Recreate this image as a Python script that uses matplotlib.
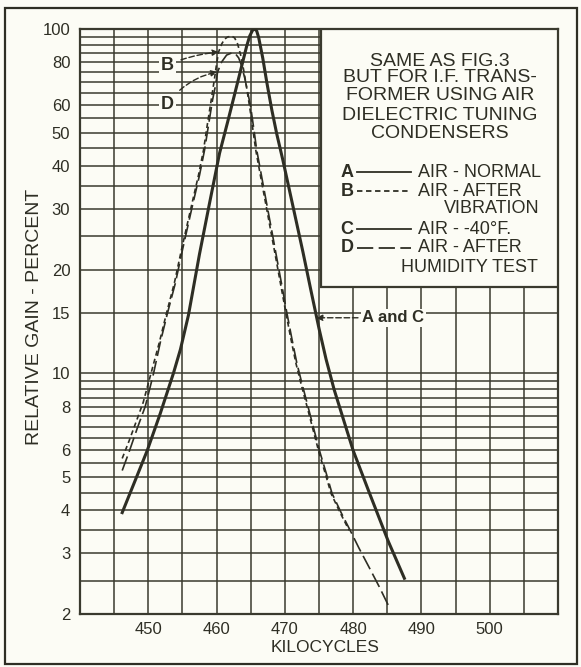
import matplotlib
matplotlib.use("Agg")
import matplotlib.pyplot as plt
from matplotlib.patches import Rectangle
from matplotlib.lines import Line2D

# ---------------- data ----------------
kc_a = [446.18, 448.09, 449.85, 451.76, 453.68, 454.71, 455.88, 457.50, 458.97, 460.44,
        461.62, 462.65, 463.68, 464.41, 464.85, 465.29, 465.59, 465.88, 466.18, 466.76,
        467.35, 468.09, 468.82, 469.71, 471.18, 472.65, 473.82, 475.00, 476.03, 477.21,
        478.53, 480.00, 482.35, 485.15, 487.50]
gain_a = [3.94, 4.89, 5.97, 7.65, 10.0, 11.74, 14.75, 22.2, 31.2, 43.6,
          53.7, 64.7, 78.1, 89.2, 95.4, 99.3, 100.0, 98.7, 94.2, 82.4,
          70.1, 58.2, 49.5, 41.6, 30.6, 22.5, 17.4, 13.5, 11.0, 8.98,
          7.40, 5.97, 4.51, 3.25, 2.54]

kc_b = [446.18, 447.21, 448.24, 449.26, 450.44, 451.62, 452.65, 453.82, 454.85, 456.18,
        457.35, 458.09, 458.68, 459.26, 459.71, 460.00, 460.29, 460.74, 461.18, 461.62,
        462.21, 462.65, 463.09, 463.53, 463.97, 464.41, 464.85, 465.29, 465.74, 466.47,
        467.21, 467.94, 468.68, 469.41, 470.15, 470.88, 471.62, 472.35, 473.24, 474.12,
        475.00, 475.88, 476.76, 478.09, 479.41]
gain_b = [5.66, 6.38, 7.25, 8.24, 10.07, 12.3, 14.9, 18.3, 22.8, 29.8,
          37.6, 44.5, 53.3, 63.0, 72.1, 79.1, 85.7, 90.4, 93.5, 94.8,
          95.4, 94.2, 90.4, 84.0, 76.0, 67.4, 59.3, 51.5, 44.5, 37.1,
          31.0, 25.9, 21.6, 18.0, 15.0, 12.6, 10.7, 9.35, 8.02, 6.87,
          5.89, 5.15, 4.48, 3.94, 3.50]

kc_d = [446.18, 447.21, 448.38, 449.56, 450.74, 451.76, 452.79, 453.97, 455.00, 456.32,
        457.50, 458.24, 458.82, 459.41, 459.85, 460.15, 460.74, 461.47, 462.21, 462.79,
        463.24, 463.68, 464.12, 464.56, 465.00, 465.44, 465.88, 466.62, 467.35, 468.09,
        468.82, 469.56, 470.29, 471.03, 471.76, 472.50, 473.38, 474.26, 475.15, 476.03,
        476.91, 478.24, 479.56, 480.88, 482.35, 483.82, 485.15]
gain_d = [5.22, 5.93, 6.92, 8.02, 9.93, 12.3, 14.9, 18.3, 22.8, 29.8,
          37.6, 44.5, 52.6, 62.2, 68.7, 75.0, 80.2, 84.0, 85.2, 84.6,
          82.4, 78.1, 72.1, 65.6, 59.3, 51.5, 44.5, 37.1, 31.0, 25.9,
          21.6, 18.0, 15.0, 12.6, 10.7, 9.35, 8.02, 6.87, 5.89, 5.15,
          4.48, 3.94, 3.50, 3.10, 2.73, 2.40, 2.12]

x_ticks = [450, 460, 470, 480, 490, 500]
x_grid = [440, 445, 450, 455, 460, 465, 470, 475, 480, 485, 490, 495, 500, 505, 510]
y_ticks = [2, 3, 4, 5, 6, 8, 10, 15, 20, 30, 40, 50, 60, 80, 100]
y_grid = [2, 2.5, 3, 3.5, 4, 4.5, 5, 5.5, 6, 6.5, 7, 7.5, 8, 8.5, 9, 9.5, 10, 15,
          20, 25, 30, 35, 40, 45, 50, 55, 60, 65, 70, 75, 80, 85, 90, 95, 100]

header_lines = ["SAME AS FIG.3", "BUT FOR I.F. TRANS-", "FORMER USING AIR",
                "DIELECTRIC TUNING", "CONDENSERS"]
legend_keys = ["A", "B", "C", "D"]
legend_texts = ["AIR - NORMAL", "AIR - AFTER", "AIR - -40°F.", "AIR - AFTER"]

# ---------------- style ----------------
BG = "#fcfcf5"
INK = "#2e2e24"
GRID = "#3a3a2e"
plt.rcParams["font.family"] = ["Liberation Sans", "DejaVu Sans"]

W, H = 581, 667
fig = plt.figure(figsize=(W / 100, H / 100), dpi=100, facecolor=BG)


def px(x, y):
    return (x / W, 1 - y / H)


ax = fig.add_axes([80 / W, 1 - 614 / H, (558 - 80) / W, (614 - 29) / H])
ax.set_facecolor(BG)
ax.set_yscale("log")
ax.set_xlim(440, 510)
ax.set_ylim(2, 100)
ax.set_axisbelow(True)

ax.set_xticks(x_grid, minor=True)
ax.set_xticks(x_ticks)
ax.set_xticklabels([str(v) for v in x_ticks])
ax.set_yticks(y_grid, minor=True)
ax.set_yticks(y_ticks)
ax.set_yticklabels([str(v) for v in y_ticks])
ax.tick_params(which="both", length=0)
ax.tick_params(axis="y", pad=7, labelsize=12, colors=INK)
ax.tick_params(axis="x", pad=6, labelsize=12, colors=INK)
ax.grid(which="both", color=GRID, lw=1.1)
for s in ax.spines.values():
    s.set_color(GRID)
    s.set_linewidth(1.6)

ax.set_xlabel("KILOCYCLES", fontsize=12.5, color=INK)
ax.xaxis.set_label_coords((325 - 80) / 478, (614 - 640) / 585)
ax.set_ylabel("RELATIVE GAIN - PERCENT", fontsize=14, color=INK)
ax.yaxis.set_label_coords((43 - 80) / 478, (614 - 317) / 585)

# curves
ax.plot(kc_a, gain_a, color=INK, lw=2.2, solid_joinstyle="round", zorder=4)
ax.plot(kc_b, gain_b, color=INK, lw=1.2, ls=(0, (3, 2)), zorder=4)
ax.plot(kc_d, gain_d, color=INK, lw=1.2, ls=(0, (9, 3)), zorder=4)

# legend box in the upper right corner of the grid
ax.add_patch(Rectangle((475.3, 17.8), 510 - 475.3, 100 - 17.8, facecolor=BG,
                       edgecolor=GRID, lw=1.6, zorder=3))

# annotations B, D, A and C
bb = dict(boxstyle="square,pad=0.1", fc=BG, ec="none")
ax.annotate("B", xy=(460.3, 85.7), xytext=(452.8, 78.6), fontsize=13, fontweight="bold",
            color=INK, ha="center", va="center", bbox=bb, zorder=6,
            arrowprops=dict(arrowstyle="-|>", color=INK, lw=1.0, ls=(0, (4, 2)),
                            connectionstyle="arc3,rad=-0.08", shrinkA=4, shrinkB=0,
                            mutation_scale=9))
ax.annotate("D", xy=(460.1, 75.0), xytext=(452.8, 60.5), fontsize=13, fontweight="bold",
            color=INK, ha="center", va="center", bbox=bb, zorder=6,
            arrowprops=dict(arrowstyle="-|>", color=INK, lw=1.0, ls=(0, (4, 2)),
                            connectionstyle="arc3,rad=-0.2", shrinkA=4, shrinkB=0,
                            mutation_scale=9))
ax.annotate("A and C", xy=(474.6, 14.5), xytext=(485.9, 14.5), fontsize=12,
            fontweight="bold", color=INK, ha="center", va="center", bbox=bb, zorder=6,
            arrowprops=dict(arrowstyle="-|>", color=INK, lw=1.0, ls=(0, (4, 2)),
                            shrinkA=2, shrinkB=0, mutation_scale=9))

# legend box text
for t, yy in zip(header_lines, [61, 78, 96, 115, 134]):
    fig.text(*px(440, yy), t, fontsize=14, color=INK, ha="center", va="center", zorder=7)

rows = [172, 191, 229, 248]
styles = ["-", (0, (3, 2)), "-", (0, (9, 3))]
for k, t, yy, st in zip(legend_keys, legend_texts, rows, styles):
    fig.text(*px(347, yy), k, fontsize=13, fontweight="bold", color=INK,
             ha="center", va="center", zorder=7)
    x0, y0 = px(357, yy)
    x1, _ = px(411, yy)
    fig.add_artist(Line2D([x0, x1], [y0, y0], transform=fig.transFigure, color=INK,
                          lw=1.3, ls=st, zorder=7))
    fig.text(*px(418, yy), t, fontsize=13, color=INK, ha="left", va="center", zorder=7)
fig.text(*px(540, 209), "VIBRATION", fontsize=13, color=INK, ha="right", va="center", zorder=7)
fig.text(*px(538, 267), "HUMIDITY TEST", fontsize=13, color=INK, ha="right", va="center",
         zorder=7)

# outer frame
fig.add_artist(Rectangle(px(5, 664), (577 - 5) / W, (664 - 8) / H, transform=fig.transFigure,
                         fill=False, ec=INK, lw=1.6))

fig.savefig("out.png", dpi=100, facecolor=BG)
